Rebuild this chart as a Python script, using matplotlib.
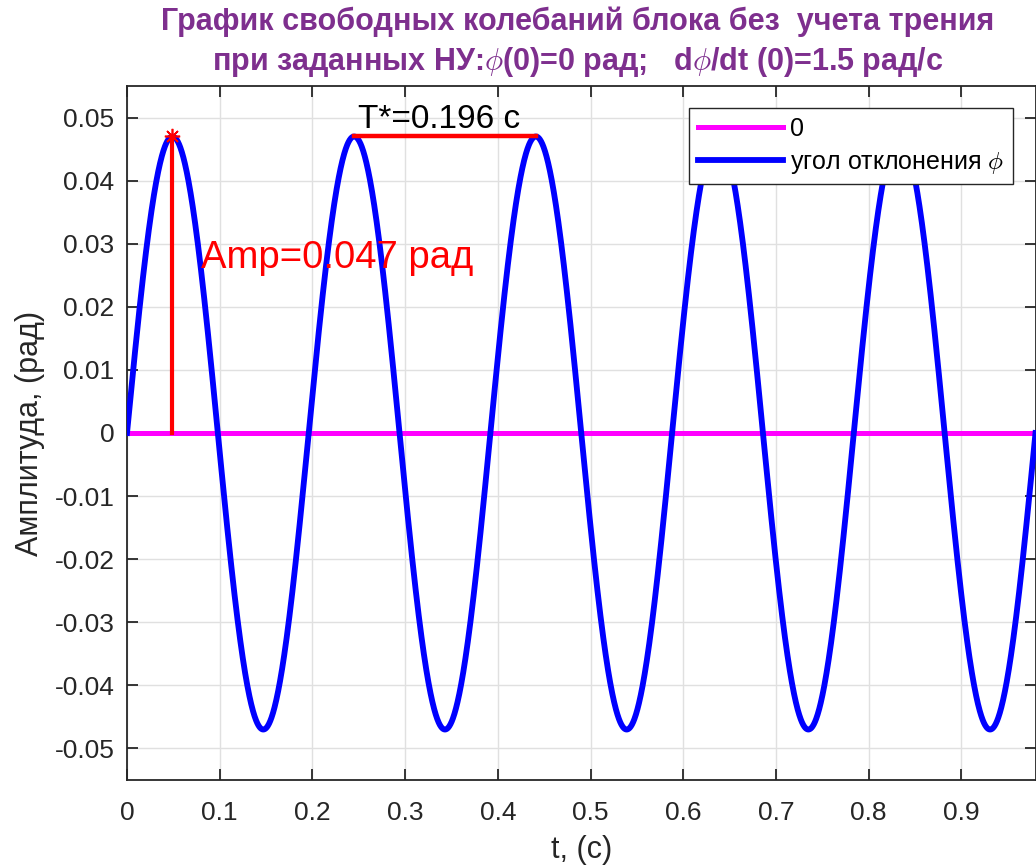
import numpy as np
import matplotlib
matplotlib.use("Agg")
import matplotlib.pyplot as plt

plt.rcParams['font.family'] = ['Liberation Sans', 'DejaVu Sans']
plt.rcParams['mathtext.fontset'] = 'cm'

# ---- data ----
amplitude = 0.047          # rad
period = 0.196             # s
t_end = 0.98               # s
x_ticks = [0, 0.1, 0.2, 0.3, 0.4, 0.5, 0.6, 0.7, 0.8, 0.9]
x_tick_labels = ['0', '0.1', '0.2', '0.3', '0.4', '0.5', '0.6', '0.7', '0.8', '0.9']
y_ticks = [-0.05, -0.04, -0.03, -0.02, -0.01, 0, 0.01, 0.02, 0.03, 0.04, 0.05]
y_tick_labels = ['-0.05', '-0.04', '-0.03', '-0.02', '-0.01', '0',
                 '0.01', '0.02', '0.03', '0.04', '0.05']
peak_t1 = period / 4
peak_t2 = period / 4 + period
peak_t3 = period / 4 + 2 * period

t = np.linspace(0, t_end, 3000)
phi = amplitude * np.sin(2 * np.pi * t / period)

fig = plt.figure(figsize=(10.36, 8.67), dpi=100)
ax = fig.add_axes([127/1036, 87/867, (1035.5-127)/1036, (780-86)/867])

zero_line, = ax.plot([0, t_end], [0, 0], color='#FF00FF', lw=3.6, label='0', zorder=3)
curve, = ax.plot(t, phi, color='#0000FF', lw=4.2, label=r'угол отклонения $\phi$', zorder=4)

ax.plot([peak_t1, peak_t1], [0, amplitude], color='#FF0000', lw=3, zorder=5)
ax.plot([peak_t1], [amplitude], marker=(8, 2, 0), color='#FF0000', ms=11, mew=1.2, zorder=6)
ax.plot([peak_t2, peak_t3], [amplitude, amplitude], color='#FF0000', lw=3.2, zorder=5)

ax.text(0.249, 0.0484, 'T*=0.196 c', fontsize=24, color='black', ha='left', va='baseline', zorder=7)
ax.text(0.0795, 0.0261, 'Amp=0.047 рад', fontsize=27.5, color='#FF0000', ha='left', va='baseline', zorder=7)

ax.set_xlim(0, t_end)
ax.set_ylim(-0.055, 0.055)
ax.set_xticks(x_ticks)
ax.set_xticklabels(x_tick_labels)
ax.set_yticks(y_ticks)
ax.set_yticklabels(y_tick_labels)

ax.grid(True, color='#E0E0E0', lw=1.0, zorder=0)
ax.set_axisbelow(True)
ax.tick_params(direction='in', length=8, width=1.3, labelsize=19, colors='#262626',
               top=True, right=True)
ax.tick_params(axis='y', pad=9)
ax.tick_params(axis='x', pad=15)
for s in ax.spines.values():
    s.set_color('#262626')
    s.set_linewidth(1.3)

ax.set_xlabel('t, (c)', fontsize=22, color='#262626', labelpad=7)
ax.set_ylabel('Амплитуда, (рад)', fontsize=22, color='#262626', labelpad=7)

fig.text(0.558, 0.992,
         'График свободных колебаний блока без  учета трения\n'
         r'при заданных НУ:$\phi$(0)=0 рад;   d$\phi$/dt (0)=1.5 рад/с',
         ha='center', va='top', fontsize=22, fontweight='bold', color='#7E2F8E',
         linespacing=1.3)

leg = ax.legend(handles=[zero_line, curve], loc='upper right',
                bbox_to_anchor=(1013/1036, (867-108)/867), bbox_transform=fig.transFigure,
                fontsize=18, frameon=True, fancybox=False, edgecolor='#262626',
                framealpha=1, borderpad=0.35, handlelength=3.4, labelspacing=0.35,
                handletextpad=0.3, borderaxespad=0)
leg.get_frame().set_linewidth(1.0)
leg.set_zorder(10)

fig.savefig('out.png', dpi=100)
